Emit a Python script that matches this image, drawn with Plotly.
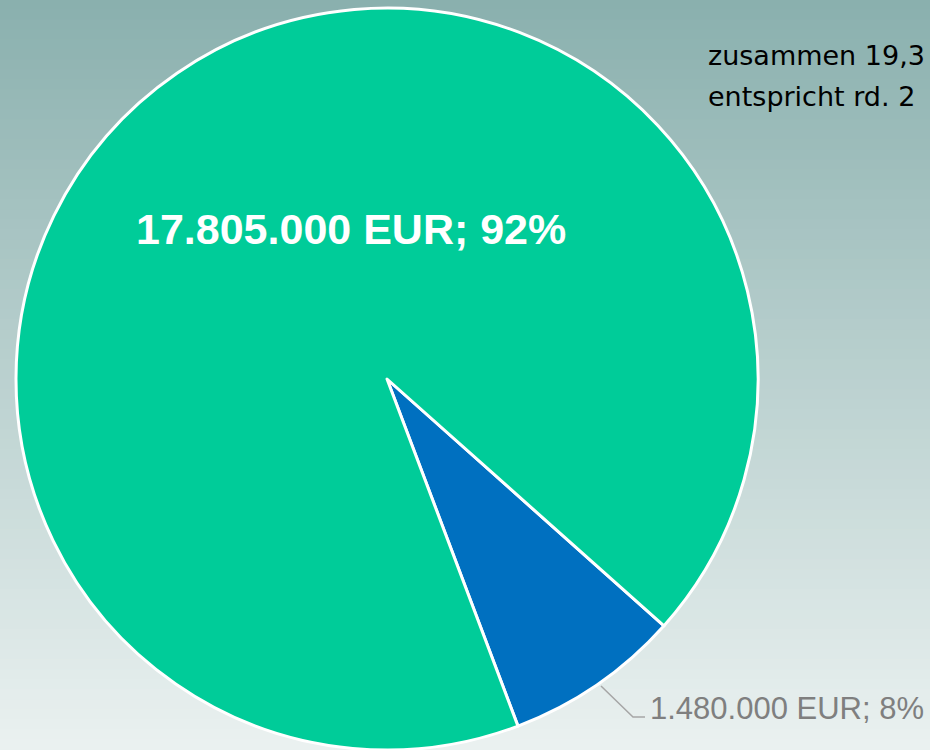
import plotly.graph_objects as go

# Data
categories = ["Anteil B", "Anteil A"]
values = [1480000, 17805000]
colors = ["#0070C0", "#00CC99"]
note_lines = ["zusammen 19,3", "entspricht rd. 2"]

total = sum(values)


def fmt(v):
    return f"{v:,.0f}".replace(",", ".") + " EUR; " + f"{round(100 * v / total)}%"


W, H = 930, 750

fig = go.Figure()
fig.add_trace(go.Pie(
    labels=categories,
    values=values,
    sort=False,
    direction="clockwise",
    rotation=131.7,
    marker=dict(colors=colors, line=dict(color="white", width=3)),
    textinfo="none",
    hoverinfo="label+value+percent",
    showlegend=False,
    domain=dict(x=[16 / W, 758 / W], y=[0, 742 / H]),
))

# background gradient (vertical)
top = (138, 176, 174)
bot = (234, 241, 240)
n = 75
shapes = []
for i in range(n):
    t = i / (n - 1)
    c = tuple(round(top[k] + (bot[k] - top[k]) * t) for k in range(3))
    y1 = 1 - i / n
    y0 = 1 - (i + 1) / n
    shapes.append(dict(type="rect", xref="paper", yref="paper", x0=0, x1=1,
                       y0=y0 - 0.001, y1=y1 + 0.001, line=dict(width=0),
                       fillcolor=f"rgb{c}", layer="below"))

# leader line for small slice
pts = [(601, 686), (633, 717), (645, 717)]
path = "M " + " L ".join(f"{x / W} {1 - y / H}" for x, y in pts)
shapes.append(dict(type="path", xref="paper", yref="paper", path=path,
                   line=dict(color="#A6A6A6", width=1.5), layer="above"))

annotations = [
    dict(text=fmt(values[1]), x=351 / W, y=1 - 229 / H, xref="paper", yref="paper",
         showarrow=False, xanchor="center", yanchor="middle",
         font=dict(family="Liberation Sans, Arial", size=43, color="white", weight="bold")),
    dict(text=fmt(values[0]), x=648 / W, y=1 - 708 / H, xref="paper", yref="paper",
         showarrow=False, xanchor="left", yanchor="middle",
         font=dict(family="Liberation Sans, Arial", size=31, color="#7F7F7F")),
    dict(text=note_lines[0], x=706 / W, y=1 - 55 / H, xref="paper", yref="paper",
         showarrow=False, xanchor="left", yanchor="middle",
         font=dict(family="DejaVu Sans", size=27, color="black")),
    dict(text=note_lines[1], x=706 / W, y=1 - 97 / H, xref="paper", yref="paper",
         showarrow=False, xanchor="left", yanchor="middle",
         font=dict(family="DejaVu Sans", size=27, color="black")),
]

fig.update_layout(
    width=W, height=H,
    margin=dict(l=0, r=0, t=0, b=0),
    paper_bgcolor="rgb(186,208,207)",
    plot_bgcolor="rgba(0,0,0,0)",
    shapes=shapes,
    annotations=annotations,
)

fig.write_html("out.html", config={"displayModeBar": False},
               post_script="document.body.style.margin='0';document.body.style.overflow='hidden';")
